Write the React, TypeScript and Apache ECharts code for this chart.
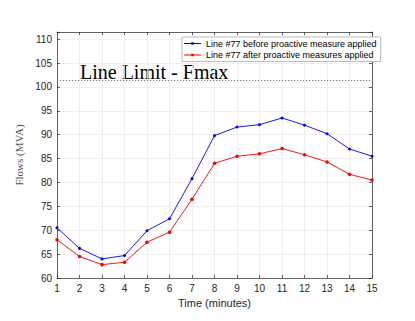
import React, { useEffect, useRef } from "react";
import * as echarts from "echarts";

const times = [1, 2, 3, 4, 5, 6, 7, 8, 9, 10, 11, 12, 13, 14, 15];
const beforeValues = [70.5, 66.2, 64.0, 64.7, 69.9, 72.4, 80.8, 89.8, 91.6, 92.1, 93.5, 92.0, 90.2, 87.0, 85.5];
const afterValues = [68.0, 64.5, 62.8, 63.3, 67.5, 69.6, 76.5, 84.0, 85.5, 86.0, 87.1, 85.8, 84.3, 81.7, 80.5];
const lineLimit = 101.4;
const seriesNames = [
  "Line #77 before proactive measure applied",
  "Line #77 after proactive measures applied",
];
const titleText = "Line Limit - Fmax";
const xLabel = "Time (minutes)";
const yLabel = "Flows (MVA)";

export default function App() {
  const ref = useRef<HTMLDivElement>(null);
  useEffect(() => {
    document.body.style.margin = "0";
    const chart = echarts.init(ref.current!, null, { renderer: "svg" });
    const axisColor = "#262626";
    const gridColor = "#ebebeb";
    const sans = "Liberation Sans";
    const serif = "Liberation Serif";
    const legendIcon = "path://M0,3.6 L17,3.6 L17,4.4 L0,4.4 Z M7.3,2.7 L9.7,2.7 L9.7,5.3 L7.3,5.3 Z M0,0 L0.01,0 L0.01,0.01 Z M17,8 L16.99,8 L16.99,7.99 Z";
    chart.setOption({
      animation: false,
      backgroundColor: "#ffffff",
      grid: { left: 57, right: 43, top: 32, bottom: 43, containLabel: false },
      legend: {
        orient: "vertical",
        left: 182,
        top: 37,
        backgroundColor: "#ffffff",
        borderColor: "#a0a0a0",
        borderWidth: 0.7,
        borderRadius: 0,
        padding: [2, 4, 2, 2],
        itemGap: 2.5,
        itemWidth: 17,
        itemHeight: 8,
        icon: legendIcon,
        textStyle: { fontFamily: sans, fontSize: 9, color: "#000" },
        data: seriesNames,
      },
      xAxis: [
        {
          type: "value",
          min: 1,
          max: 15,
          interval: 1,
          name: xLabel,
          nameLocation: "middle",
          nameGap: 18,
          nameTextStyle: { fontFamily: sans, fontSize: 11, color: axisColor },
          axisLine: { show: true, lineStyle: { color: axisColor, width: 0.7 } },
          axisTick: { show: true, inside: true, length: 3, lineStyle: { color: axisColor, width: 0.7 } },
          axisLabel: { fontFamily: sans, fontSize: 10, color: axisColor, margin: 5 },
          splitLine: { show: true, lineStyle: { color: gridColor, width: 0.8 } },
        },
        {
          type: "value",
          position: "top",
          min: 1,
          max: 15,
          interval: 1,
          axisLine: { show: true, onZero: false, lineStyle: { color: axisColor, width: 0.7 } },
          axisTick: { show: true, inside: true, length: 3, lineStyle: { color: axisColor, width: 0.7 } },
          axisLabel: { show: false },
          splitLine: { show: false },
        },
      ],
      yAxis: [
        {
          type: "value",
          min: 60,
          max: 111.5,
          interval: 5,
          name: yLabel,
          nameLocation: "middle",
          nameGap: 25,
          nameTextStyle: { fontFamily: serif, fontSize: 11, color: "#555" },
          axisLine: { show: true, lineStyle: { color: axisColor, width: 0.7 } },
          axisTick: { show: true, inside: true, length: 3, lineStyle: { color: axisColor, width: 0.7 } },
          axisLabel: {
            fontFamily: sans,
            fontSize: 10,
            color: axisColor,
            margin: 5,
            formatter: (v: number) => (v % 5 === 0 ? String(v) : ""),
          },
          splitLine: { show: true, lineStyle: { color: gridColor, width: 0.8 } },
        },
        {
          type: "value",
          position: "right",
          min: 60,
          max: 111.5,
          interval: 5,
          axisLine: { show: true, onZero: false, lineStyle: { color: axisColor, width: 0.7 } },
          axisTick: { show: true, inside: true, length: 3, lineStyle: { color: axisColor, width: 0.7 } },
          axisLabel: { show: false },
          splitLine: { show: false },
        },
      ],
      series: [
        {
          name: seriesNames[0],
          type: "line",
          data: times.map((t, i) => [t, beforeValues[i]]),
          color: "#0000ff",
          lineStyle: { width: 0.9, color: "#0000ff" },
          symbol: "circle",
          symbolSize: 3,
          itemStyle: { color: "#0000ff" },
          markLine: {
            silent: true,
            symbol: "none",
            label: { show: false },
            lineStyle: { type: [1.2, 1.8], color: "#777", width: 1.1 },
            data: [{ yAxis: lineLimit }],
          },
        },
        {
          name: seriesNames[1],
          type: "line",
          data: times.map((t, i) => [t, afterValues[i]]),
          color: "#ff0000",
          lineStyle: { width: 0.9, color: "#ff0000" },
          symbol: "circle",
          symbolSize: 3.5,
          itemStyle: { color: "#ff0000" },
        },
      ],
      graphic: [
        {
          type: "text",
          left: 80,
          top: 62,
          style: { text: titleText, font: `20px ${serif}`, fill: "#000" },
        },
      ],
    });
    return () => chart.dispose();
  }, []);
  return <div ref={ref} style={{ width: 415, height: 321 }} />;
}
